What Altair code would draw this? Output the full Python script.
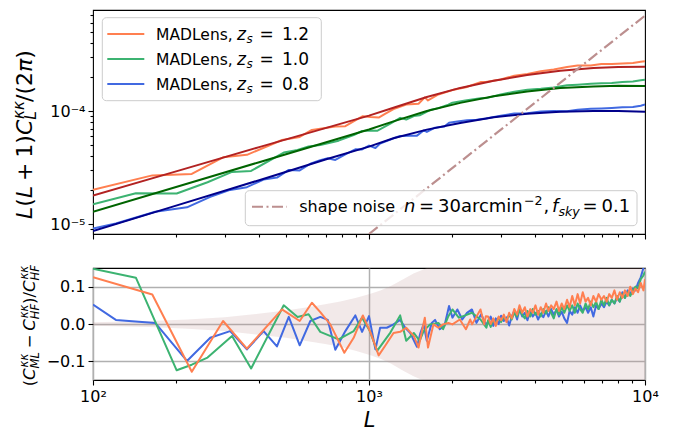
import altair as alt
import pandas as pd

FONT = "DejaVu Sans"

# ---------------- data: top panel ----------------
# theory (HALOFIT) curves
L_hf = [100, 200, 400, 700, 1000, 1226, 1620, 2140, 2830, 3740, 4930, 6500, 8000, 10000]
hf_z12 = [1.79e-5, 2.93e-5, 4.8e-5, 7.1e-5, 9.1e-5, 1.07e-4, 1.33e-4, 1.6e-4, 1.85e-4, 2.08e-4, 2.27e-4, 2.40e-4, 2.45e-4, 2.46e-4]
hf_z10 = [1.29e-5, 2.13e-5, 3.53e-5, 5.3e-5, 6.87e-5, 8.1e-5, 1.0e-4, 1.18e-4, 1.35e-4, 1.49e-4, 1.6e-4, 1.65e-4, 1.67e-4, 1.66e-4]
hf_z08 = [8.7e-6, 1.46e-5, 2.45e-5, 3.75e-5, 4.85e-5, 5.75e-5, 6.85e-5, 7.85e-5, 8.8e-5, 9.45e-5, 9.85e-5, 1.0e-4, 1.0e-4, 9.85e-5]

# MADLens measurements
L_ml12 = [100, 164, 228, 296, 361, 484, 561, 621, 755, 821, 892, 950, 1013, 1084, 1143, 1227, 1364, 1512, 1593,
          1636, 1784, 2006, 2245, 2535, 2650, 3000, 3360, 3750, 4190, 4670, 5220, 5700, 6360, 6950, 7580, 8280,
          9040, 9650, 10000]
ml_z12 = [2.02e-5, 2.7e-5, 2.78e-5, 3.9e-5, 4.1e-5, 5.55e-5, 5.9e-5, 6.8e-5, 7.3e-5, 7.35e-5, 8.25e-5, 9.0e-5,
          8.85e-5, 8.75e-5, 9.45e-5, 1.04e-4, 1.14e-4, 1.16e-4, 1.32e-4, 1.24e-4, 1.40e-4, 1.53e-4, 1.62e-4,
          1.80e-4, 1.80e-4, 1.90e-4, 2.05e-4, 2.12e-4, 2.24e-4, 2.33e-4, 2.45e-4, 2.52e-4, 2.52e-4, 2.6e-4,
          2.6e-4, 2.63e-4, 2.65e-4, 2.72e-4, 2.75e-4]
L_ml10 = [100, 143, 201, 260, 319, 374, 491, 551, 604, 666, 776, 880, 944, 1007, 1070, 1195, 1297, 1364, 1453,
          1526, 1664, 1784, 1939, 2006, 2232, 2535, 2663, 3000, 3360, 3750, 4190, 4670, 5220, 5700, 6360, 6950,
          7580, 8280, 9040, 9650, 10000]
ml_z10 = [1.5e-5, 1.88e-5, 1.87e-5, 2.35e-5, 2.9e-5, 2.96e-5, 4.3e-5, 4.53e-5, 4.87e-5, 5.0e-5, 5.47e-5, 6.12e-5,
          6.66e-5, 6.74e-5, 6.68e-5, 7.72e-5, 8.7e-5, 8.4e-5, 9.03e-5, 9.17e-5, 1.02e-4, 1.06e-4, 1.14e-4,
          1.185e-4, 1.24e-4, 1.295e-4, 1.3e-4, 1.4e-4, 1.48e-4, 1.54e-4, 1.57e-4, 1.61e-4, 1.69e-4, 1.71e-4,
          1.74e-4, 1.76e-4, 1.77e-4, 1.8e-4, 1.82e-4, 1.865e-4, 1.89e-4]
L_ml08 = [100, 121, 168, 219, 266, 314, 361, 415, 464, 512, 561, 613, 666, 709, 755, 821, 892, 944, 1000, 1055,
          1097, 1227, 1297, 1411, 1492, 1577, 1620, 1735, 1876, 1950, 2090, 2265, 2452, 2650, 3000, 3360, 3750,
          4190, 4670, 5220, 5700, 6360, 6950, 7580, 8280, 9040, 9650, 10000]
ml_z08 = [9.15e-6, 1.015e-5, 1.288e-5, 1.41e-5, 1.745e-5, 2.01e-5, 2.125e-5, 2.48e-5, 2.585e-5, 3.02e-5, 2.99e-5,
          3.42e-5, 3.67e-5, 3.83e-5, 3.7e-5, 4.14e-5, 4.59e-5, 4.58e-5, 4.95e-5, 4.71e-5, 5.15e-5, 5.74e-5,
          6.02e-5, 6.05e-5, 6.06e-5, 6.74e-5, 6.54e-5, 7.13e-5, 7.31e-5, 7.86e-5, 8.08e-5, 8.3e-5, 8.37e-5,
          8.6e-5, 9.08e-5, 9.52e-5, 9.55e-5, 9.89e-5, 1.0e-4, 9.93e-5, 1.025e-4, 1.045e-4, 1.055e-4, 1.065e-4,
          1.08e-4, 1.087e-4, 1.114e-4, 1.14e-4]

# shape noise
L_noise = [1000, 10000]
noise = [8.2e-6, 6.95e-4]

# ---------------- data: bottom panel ----------------
HIGH_L = [2700, 2760, 2820, 2880, 2950, 3010, 3080, 3150, 3220, 3290, 3360, 3440, 3510, 3590, 3670, 3750, 3840,
          3920, 4010, 4100, 4190, 4280, 4380, 4470, 4570, 4670, 4780, 4880, 4990, 5100, 5220, 5330, 5450, 5570,
          5700, 5820, 5950, 6090, 6220, 6360, 6500, 6650, 6790, 6950, 7100, 7260, 7420, 7580, 7750, 7920, 8100,
          8280, 8460, 8650, 8840, 9040, 9240, 9440, 9650, 9870, 10000]

L_r08 = [100, 121, 168, 219, 266, 314, 361, 415, 464, 512, 561, 613, 666, 709, 755, 821, 892, 944, 1000, 1055,
         1097, 1160, 1227, 1297, 1353, 1411, 1492, 1533, 1577, 1620, 1688, 1735, 1805, 1876, 1950, 2006, 2090,
         2177, 2265, 2360, 2452, 2549, 2650]
r08_low = [0.052, 0.011, 0.003, -0.099, -0.037, -0.019, -0.068, -0.019, -0.06, 0.019, -0.057, 0.008, 0.019,
           0.011, -0.069, -0.019, 0.023, -0.021, 0.021, -0.068, -0.01, -0.01, -0.001, 0.011, -0.01, -0.024,
           -0.061, -0.026, -0.001, -0.045, 0.003, 0.011, -0.014, -0.005, 0.048, 0.017, 0.039, 0.012, 0.03, 0.039,
           0.003, 0.026, -0.001]
r08_high = [0.005, 0.02, -0.005, 0.015, 0.0, 0.022, 0.008, 0.018, -0.004, 0.02, 0.035, 0.012, 0.04, 0.02, 0.03,
            0.01, 0.035, 0.02, 0.03, 0.012, 0.028, 0.018, 0.035, 0.02, 0.04, 0.025, 0.038, 0.02, 0.033, 0.015,
            0.003, 0.035, 0.025, 0.045, 0.03, 0.05, 0.035, 0.045, 0.03, 0.045, 0.02, 0.05, 0.04, 0.055, 0.045,
            0.06, 0.05, 0.065, 0.055, 0.07, 0.06, 0.085, 0.07, 0.09, 0.08, 0.095, 0.09, 0.11, 0.125, 0.15, 0.16]

L_r10 = [100, 143, 201, 228, 260, 319, 374, 491, 551, 604, 666, 776, 880, 944, 1007, 1070, 1195, 1297, 1364,
         1453, 1526, 1577, 1664, 1784, 1856, 1939, 2006, 2115, 2232, 2360, 2535, 2663]
r10_low = [0.148, 0.124, -0.124, -0.109, -0.09, -0.032, -0.119, 0.05, 0.019, 0.026, -0.021, -0.041, -0.019,
           0.017, -0.019, -0.072, -0.023, 0.023, -0.045, -0.024, -0.045, -0.019, -0.001, 0.003, -0.014, 0.021,
           0.039, 0.017, 0.023, 0.03, 0.012, -0.01]
r10_high = [0.01, -0.008, 0.012, 0.0, 0.018, 0.005, 0.02, 0.01, 0.025, 0.012, 0.03, 0.02, 0.038, 0.025, 0.015,
            0.035, 0.02, 0.04, 0.025, 0.035, 0.02, 0.04, 0.028, 0.045, 0.03, 0.015, 0.04, 0.025, 0.045, 0.03,
            0.05, 0.035, 0.05, 0.03, 0.055, 0.04, 0.03, 0.055, 0.04, 0.06, 0.045, 0.06, 0.04, 0.065, 0.05,
            0.07, 0.05, 0.065, 0.055, 0.075, 0.06, 0.08, 0.07, 0.085, 0.075, 0.09, 0.1, 0.095, 0.12, 0.13, 0.14]

L_r12 = [100, 164, 228, 296, 361, 484, 561, 621, 666, 724, 814, 880, 950, 1013, 1084, 1143, 1227, 1297, 1364,
         1453, 1512, 1593, 1636, 1712, 1784, 1856, 1939, 2006, 2133, 2245, 2327, 2363, 2535, 2616, 2650]
r12_low = [0.125, 0.079, -0.128, 0.008, -0.066, 0.039, 0.008, 0.057, 0.032, -0.001, -0.077, -0.037, 0.023,
           -0.023, -0.084, -0.059, -0.024, -0.021, -0.01, -0.032, -0.063, 0.017, -0.063, -0.001, -0.01, -0.001,
           0.003, -0.001, 0.012, -0.014, 0.012, -0.001, 0.039, -0.001, 0.021]
r12_high = [0.02, 0.0, 0.015, -0.005, 0.02, 0.01, 0.025, 0.005, 0.03, 0.015, 0.04, 0.025, 0.05, 0.03, 0.045,
            0.02, 0.04, 0.03, 0.05, 0.025, 0.045, 0.03, 0.055, 0.035, 0.05, 0.04, 0.06, 0.035, 0.055, 0.04,
            0.065, 0.045, 0.075, 0.05, 0.08, 0.055, 0.085, 0.06, 0.07, 0.05, 0.075, 0.06, 0.08, 0.065, 0.075,
            0.06, 0.08, 0.07, 0.09, 0.065, 0.085, 0.07, 0.09, 0.075, 0.1, 0.08, 0.095, 0.085, 0.11, 0.09, 0.12]

# cosmic-variance + shape-noise band
band_L = [100, 160, 220, 300, 390, 500, 600, 685, 787, 900, 1013, 1100, 1200, 1330, 1450, 1620, 2000, 10000]
band_hi = [0.005, 0.008, 0.012, 0.018, 0.027, 0.036, 0.045, 0.052, 0.06, 0.07, 0.081, 0.09, 0.102, 0.12, 0.135,
           0.15, 0.2, 0.2]
band_lo = [-0.005, -0.008, -0.013, -0.019, -0.028, -0.037, -0.046, -0.053, -0.061, -0.072, -0.084, -0.093,
           -0.106, -0.125, -0.14, -0.155, -0.2, -0.2]

# ---------------- styling ----------------
C_ML = {"1.2": "#FF7F50", "1.0": "#3CB371", "0.8": "#4169E1"}
C_HF = {"1.2": "#B22222", "1.0": "#006400", "0.8": "#00008B"}
C_NOISE = "#BC8F8F"
GRID = "#b0b0b0"

W, H_TOP, H_BOT = 552, 224, 112

MAJOR = "abs(log(datum.value) / LN10 - round(log(datum.value) / LN10)) < 0.001"
TICK_COND = {"condition": {"test": MAJOR, "value": 5}, "value": 3}
LABEL_COND = {"condition": {"test": MAJOR, "value": 16}, "value": 0}

x_ticks = [100, 200, 300, 400, 500, 600, 700, 800, 900, 1000, 2000, 3000, 4000, 5000, 6000, 7000, 8000, 9000, 10000]
y_ticks = [9e-6, 1e-5, 2e-5, 3e-5, 4e-5, 5e-5, 6e-5, 7e-5, 8e-5, 9e-5, 1e-4, 2e-4, 3e-4, 4e-4, 5e-4, 6e-4, 7e-4]

Y_LABEL = ("abs(log(datum.value)/LN10 + 5) < 0.001 ? '10\u207b\u2075' : "
           "(abs(log(datum.value)/LN10 + 4) < 0.001 ? '10\u207b\u2074' : '')")
X_LABEL = ("abs(log(datum.value)/LN10 - 2) < 0.001 ? '10\u00b2' : "
           "(abs(log(datum.value)/LN10 - 3) < 0.001 ? '10\u00b3' : "
           "(abs(log(datum.value)/LN10 - 4) < 0.001 ? '10\u2074' : ''))")

x_scale = alt.Scale(type="log", domain=[100, 10000], nice=False)

x_top = alt.X("L:Q", scale=x_scale,
              axis=alt.Axis(values=x_ticks, labels=False, title=None, grid=False, domain=False,
                            tickSize=TICK_COND, tickColor="black", tickWidth=1.1))
y_top = alt.Y("v:Q", scale=alt.Scale(type="log", domain=[8.2e-6, 7.8e-4], nice=False),
              axis=alt.Axis(values=y_ticks, labelExpr=Y_LABEL, title=None, grid=False, domain=False,
                            tickSize=TICK_COND, tickColor="black", tickWidth=1.1, labelFontSize=LABEL_COND,
                            labelPadding=3, labelOverlap=False, labelFont=FONT, labelColor="black"))

x_bot = alt.X("L:Q", scale=x_scale,
              axis=alt.Axis(values=x_ticks, labelExpr=X_LABEL, title="L", titleFont=FONT,
                            titleFontStyle="italic", titleFontWeight="normal", titleFontSize=21,
                            titleColor="black", titlePadding=5, grid=True,
                            gridOpacity={"condition": {"test": MAJOR, "value": 1}, "value": 0},
                            gridColor=GRID, gridWidth=1.5, domain=False, tickSize=TICK_COND,
                            tickColor="black", tickWidth=1.1, labelFlush=False, labelOverlap=False,
                            labelFontSize=LABEL_COND, labelFont=FONT, labelColor="black", labelPadding=3))
bot_scale = alt.Scale(domain=[-0.15, 0.15], nice=False, zero=False)
y_bot_axis = alt.Axis(values=[-0.1, 0.0, 0.1], format=".1f", title=None, grid=True, gridColor=GRID,
                      gridWidth=1.5, domain=False, tickSize=5, tickColor="black", tickWidth=1.1,
                      labelFontSize=16, labelFont=FONT, labelColor="black", labelPadding=3)

DUMMY = pd.DataFrame({"k": [0]})


def piece(x, y, s, size, style="normal", angle=0, baseline="alphabetic"):
    return alt.Chart(DUMMY).mark_text(text=s, align="left", baseline=baseline, font=FONT, fontSize=size,
                                      fontStyle=style, color="black", angle=angle
                                      ).encode(x=alt.value(x), y=alt.value(y))


def hline(x1, x2, y, color, dash=None):
    kw = dict(color=color, strokeWidth=2)
    if dash:
        kw["strokeDash"] = dash
    return alt.Chart(DUMMY).mark_rule(**kw).encode(x=alt.value(x1), x2=alt.value(x2), y=alt.value(y))


def box(x1, x2, y1, y2):
    return alt.Chart(DUMMY).mark_rect(fill="white", fillOpacity=0.8, stroke="#cccccc", strokeWidth=1,
                                      cornerRadius=4).encode(x=alt.value(x1), x2=alt.value(x2),
                                                             y=alt.value(y1), y2=alt.value(y2))


DASHDOT = [11, 3.5, 2, 3.5]

# ---------------- top panel ----------------
top_layers = []
for L, v, key in [(L_ml12, ml_z12, "1.2"), (L_ml10, ml_z10, "1.0"), (L_ml08, ml_z08, "0.8")]:
    top_layers.append(alt.Chart(pd.DataFrame({"L": L, "v": v})).mark_line(
        color=C_ML[key], strokeWidth=2, clip=True, strokeJoin="round").encode(x=x_top, y=y_top))
for v, key in [(hf_z12, "1.2"), (hf_z10, "1.0"), (hf_z08, "0.8")]:
    top_layers.append(alt.Chart(pd.DataFrame({"L": L_hf, "v": v})).mark_line(
        color=C_HF[key], strokeWidth=2, clip=True, strokeJoin="round").encode(x=x_top, y=y_top))
top_layers.append(alt.Chart(pd.DataFrame({"L": L_noise, "v": noise})).mark_line(
    color=C_NOISE, strokeWidth=2.2, strokeDash=DASHDOT, clip=True).encode(x=x_top, y=y_top))

# legend 1 (MADLens)
top_layers.append(box(9.3, 228.3, 7.7, 90.7))
LEG_FS = 15.5
MATH_FS = 17
for i, key in enumerate(["1.2", "1.0", "0.8"]):
    ly = 24 + 25 * i
    by = ly + 5.5
    top_layers += [
        hline(14.3, 51.3, ly, C_ML[key]),
        piece(63.1, by, "MADLens,", LEG_FS),
        piece(144.0, by, "z", MATH_FS, "italic"),
        piece(153.5, by + 3.5, "s", MATH_FS * 0.7, "italic"),
        piece(166.5, by, "=", MATH_FS),
        piece(189.0, by, key, MATH_FS),
    ]

# legend 2 (shape noise)
top_layers.append(box(152.3, 544, 180.7, 215.7))
nb = 202.2
L2_FS = 16
L2_MATH = 18
top_layers += [
    hline(159, 194, 196.7, C_NOISE, DASHDOT),
    piece(206.2, nb, "shape noise", L2_FS),
    piece(311.0, nb, "n", L2_MATH, "italic"),
    piece(326.0, nb, "=", L2_MATH),
    piece(345.0, nb, "30arcmin", L2_MATH),
    piece(431.0, nb - 7.5, "\u22122", L2_MATH * 0.7),
    piece(450.5, nb, ",", L2_MATH),
    piece(459.0, nb, "f", L2_MATH, "italic"),
    piece(465.5, nb + 3.5, "sky", L2_MATH * 0.7, "italic"),
    piece(489.5, nb, "=", L2_MATH),
    piece(508.5, nb, "0.1", L2_MATH),
]

# y-axis title (top): L(L+1)C_L^{kk}/(2pi), rotated
TS = 22
ty0 = 209.0
bx, sx, ux = -61.0, -69.0, -57.5
top_title = [
    ("L", 0, bx, TS, "italic"), ("(", 12.3, bx, TS, "normal"), ("L", 20.9, bx, TS, "italic"),
    ("+", 38.0, bx, TS, "normal"), ("1", 61.3, bx, TS, "normal"), (")", 75.3, bx, TS, "normal"),
    ("C", 83.9, bx, TS, "italic"), ("\u03ba\u03ba", 100.0, sx, TS * 0.7, "italic"),
    ("L", 99.3, ux, TS * 0.7, "italic"), ("/", 117.0, bx, TS, "normal"), ("(", 124.4, bx, TS, "normal"),
    ("2", 133.0, bx, TS, "normal"), ("\u03c0", 147.0, bx, TS, "italic"), (")", 160.2, bx, TS, "normal"),
]
for s, off, xx, fs, st in top_title:
    top_layers.append(piece(xx, ty0 - off, s, fs, st, angle=270))

top = alt.layer(*top_layers).properties(width=W, height=H_TOP)

# ---------------- bottom panel ----------------
bot_layers = [
    alt.Chart(pd.DataFrame({"L": band_L, "lo": band_lo, "hi": band_hi})).mark_area(
        color=C_NOISE, opacity=0.2, clip=True).encode(
        x=x_bot, y=alt.Y("lo:Q", scale=bot_scale, axis=y_bot_axis), y2="hi:Q")
]
for L_low, r_low, r_high, key in [(L_r08, r08_low, r08_high, "0.8"), (L_r10, r10_low, r10_high, "1.0"),
                                  (L_r12, r12_low, r12_high, "1.2")]:
    df = pd.DataFrame({"L": L_low + HIGH_L, "r": r_low + r_high})
    bot_layers.append(alt.Chart(df).mark_line(color=C_ML[key], strokeWidth=2, clip=True,
                                              strokeJoin="round").encode(
        x=x_bot, y=alt.Y("r:Q", scale=bot_scale, axis=y_bot_axis)))

BS = 16.5
by0 = 118.3
mb, ms, mu = -57.7, -64.7, -54.2
bot_title = [
    ("(", 0, mb, BS, "normal"), ("C", 6.4, mb, BS, "italic"), ("\u03ba\u03ba", 18.9, ms, BS * 0.7, "italic"),
    ("ML", 17.9, mu, BS * 0.7, "italic"), ("\u2212", 38.0, mb, BS, "normal"), ("C", 55.5, mb, BS, "italic"),
    ("\u03ba\u03ba", 68.0, ms, BS * 0.7, "italic"), ("HF", 67.0, mu, BS * 0.7, "italic"),
    (")", 82.3, mb, BS, "normal"), ("/", 88.7, mb, BS, "normal"), ("C", 94.3, mb, BS, "italic"),
    ("\u03ba\u03ba", 106.8, ms, BS * 0.7, "italic"), ("HF", 105.8, mu, BS * 0.7, "italic"),
]
for s, off, xx, fs, st in bot_title:
    bot_layers.append(piece(xx, by0 - off, s, fs, st, angle=270))

bottom = alt.layer(*bot_layers).properties(width=W, height=H_BOT)

chart = alt.vconcat(top, bottom, spacing=34, bounds="flush").properties(
    padding={"left": 3, "top": 1, "right": 5, "bottom": 2}
).configure(font=FONT).configure_view(stroke="black", strokeWidth=1.1)

chart.save("out.html", embed_options={"renderer": "svg", "actions": False})
